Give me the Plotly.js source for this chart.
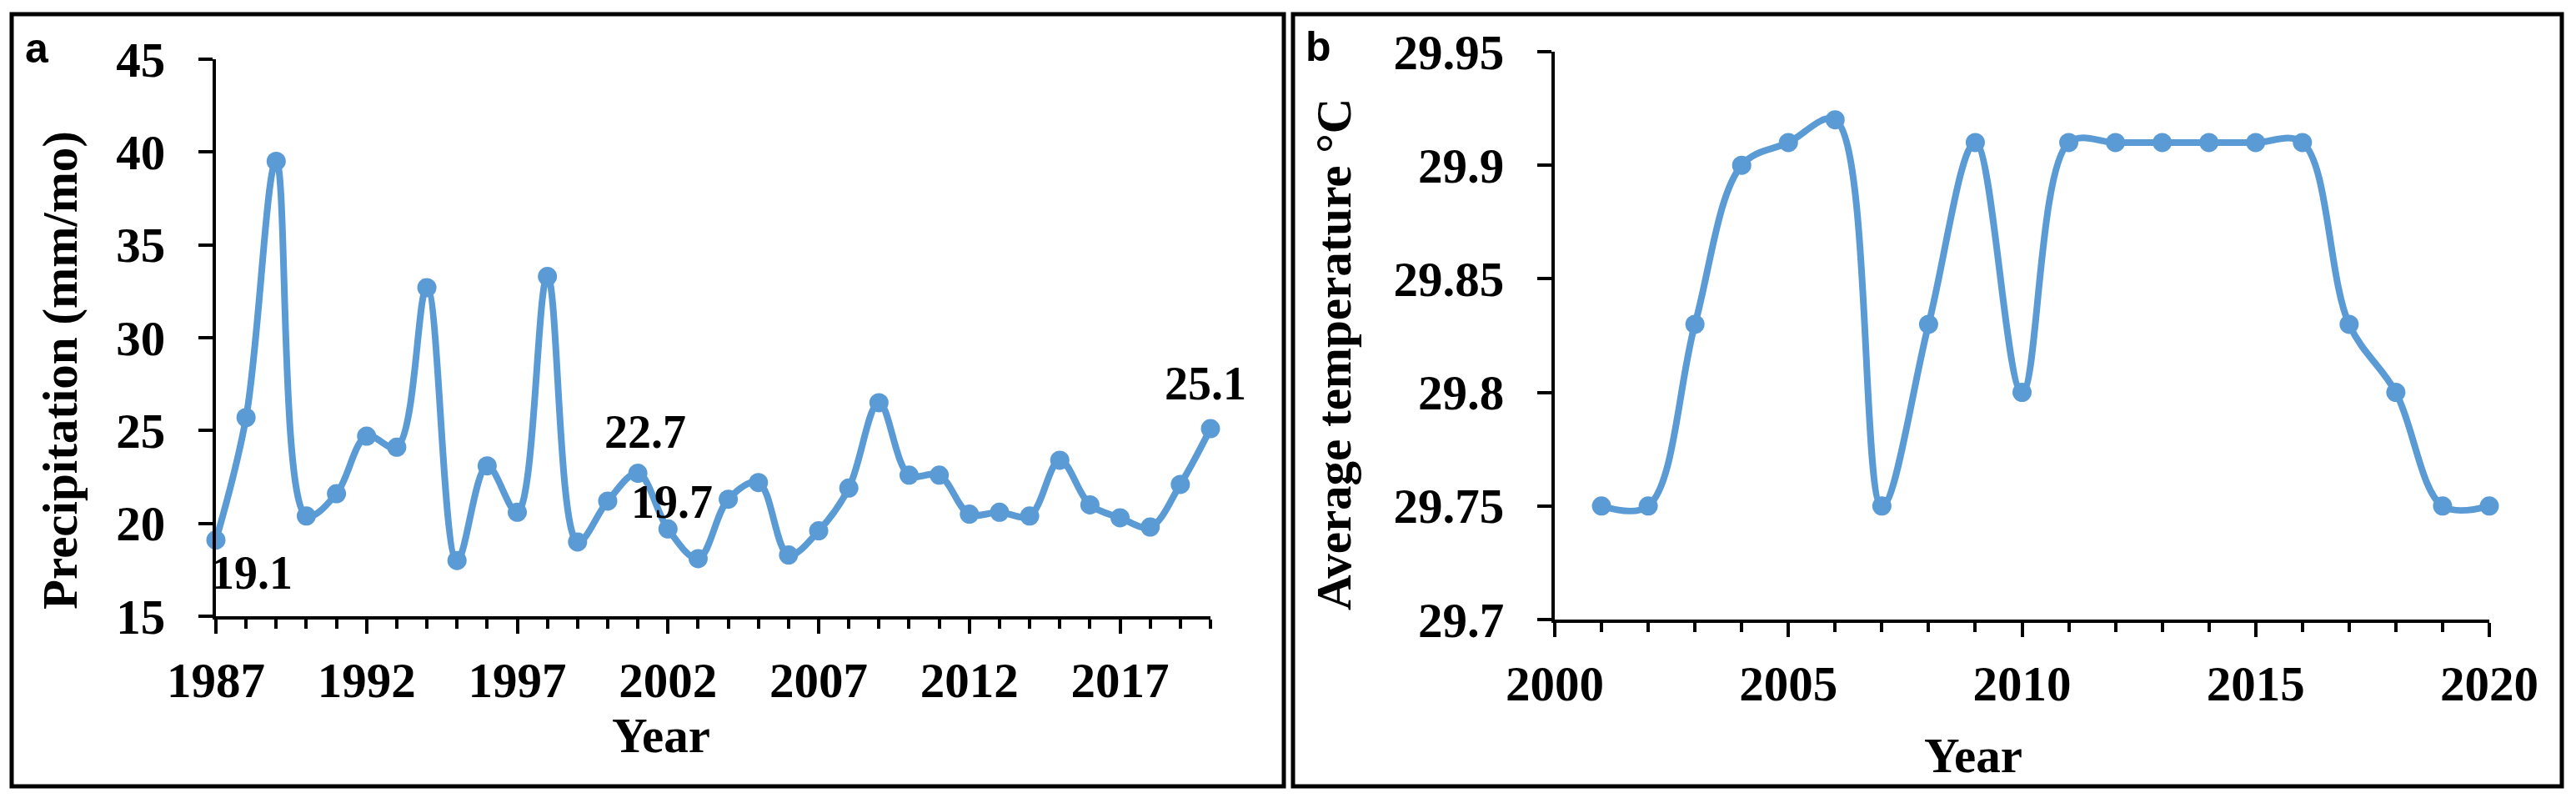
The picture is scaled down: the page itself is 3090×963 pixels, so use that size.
<!DOCTYPE html>
<html><head><meta charset="utf-8">
<script src="https://cdn.plot.ly/plotly-3.0.1.min.js"></script>
<style>html,body{margin:0;padding:0;background:#fff}#chart{width:3090px;height:963px}</style>
</head><body><div id="chart"></div>
<script>
// ---- data ----
const precipYears = [1987,1988,1989,1990,1991,1992,1993,1994,1995,1996,1997,1998,1999,2000,2001,2002,2003,2004,2005,2006,2007,2008,2009,2010,2011,2012,2013,2014,2015,2016,2017,2018,2019,2020];
const precipValues = [19.1,25.7,39.5,20.4,21.6,24.7,24.1,32.7,18.0,23.1,20.6,33.3,19.0,21.2,22.7,19.7,18.1,21.3,22.2,18.3,19.6,21.9,26.5,22.6,22.6,20.5,20.6,20.4,23.4,21.0,20.3,19.8,22.1,25.1];
const precipLabelYears = [1987, 2001, 2002, 2020];
const precipXTicks = [1987,1992,1997,2002,2007,2012,2017];
const precipYTicks = [15,20,25,30,35,40,45];

const tempYears = [2001,2002,2003,2004,2005,2006,2007,2008,2009,2010,2011,2012,2013,2014,2015,2016,2017,2018,2019,2020];
const tempValues = [29.75,29.75,29.83,29.90,29.91,29.92,29.75,29.83,29.91,29.80,29.91,29.91,29.91,29.91,29.91,29.91,29.83,29.80,29.75,29.75];
const tempXTicks = [2000,2005,2010,2015,2020];
const tempYTicks = [29.7,29.75,29.8,29.85,29.9,29.95];
const tempYTickText = ['29.7','29.75','29.8','29.85','29.9','29.95'];

// ---- layout helpers ----
const W = 3090, H = 963;
const px = x => x / W;
const py = y => 1 - y / H;
const SERIF = '"Liberation Serif", "Times New Roman", serif';
const SANS = '"Liberation Sans", Arial, sans-serif';
const BLUE = '#5B9BD5';
const FS = 59;

const lineTrace = (x, y, xa, ya) => ({
  x, y, xaxis: xa, yaxis: ya, type: 'scatter', mode: 'lines+markers',
  line: {color: BLUE, width: 8, shape: 'spline', smoothing: 1},
  marker: {color: BLUE, size: 23},
  cliponaxis: false, hoverinfo: 'skip', showlegend: false
});

const axisCommon = {
  showline: true, linecolor: '#000', linewidth: 4,
  ticks: 'outside', ticklen: 17, tickwidth: 4, tickcolor: '#000',
  showgrid: false, zeroline: false, fixedrange: true,
  tickfont: {family: SERIF, size: FS, color: '#000', weight: 'bold'}
};

// label offsets (style)
const labelOffsets = {1987: [43, -39], 2001: [9, 50], 2002: [5, 32], 2020: [-6, 54]};
const annotations = precipLabelYears.map(yr => {
  const v = precipValues[precipYears.indexOf(yr)];
  return {
    x: yr, y: v, xref: 'x', yref: 'y', text: v.toFixed(1), showarrow: false,
    xanchor: 'center', yanchor: 'middle',
    xshift: labelOffsets[yr][0], yshift: labelOffsets[yr][1],
    font: {family: SERIF, size: 56, color: '#000', weight: 'bold'}
  };
});

const paperText = (x, y, text, opts) => Object.assign({
  x: px(x), y: py(y), xref: 'paper', yref: 'paper', text, showarrow: false,
  xanchor: 'center', yanchor: 'middle',
  font: {family: SERIF, size: FS, color: '#000', weight: 'bold'}
}, opts || {});

annotations.push(
  paperText(72, 444, 'Precipitation (mm/mo)', {textangle: -90}),
  paperText(793, 882, 'Year'),
  paperText(1600, 425, 'Average temperature °C', {textangle: -90}),
  paperText(2367, 906, 'Year'),
  paperText(44, 58, 'a', {font: {family: SANS, size: 50, color: '#000', weight: 'bold'}}),
  paperText(1581, 56, 'b', {font: {family: SANS, size: 50, color: '#000', weight: 'bold'}})
);

const layout = {
  width: W, height: H, autosize: false,
  margin: {l: 0, r: 0, t: 0, b: 0, pad: 0},
  paper_bgcolor: '#fff', plot_bgcolor: 'rgba(0,0,0,0)',
  xaxis: Object.assign({}, axisCommon, {
    domain: [px(259), px(1452)], anchor: 'y', range: [1987, 2020],
    tickmode: 'array', tickvals: precipXTicks, ticklabelstandoff: 5,
    minor: {ticks: 'outside', ticklen: 11, tickwidth: 4, tickcolor: '#000', dtick: 1, tick0: 1987, showgrid: false}
  }),
  yaxis: Object.assign({}, axisCommon, {
    domain: [py(739), py(71)], anchor: 'x', range: [15, 45],
    tickmode: 'array', tickvals: precipYTicks, ticklabelstandoff: 28
  }),
  xaxis2: Object.assign({}, axisCommon, {
    domain: [px(1865), px(2986)], anchor: 'y2', range: [2000, 2020],
    tickmode: 'array', tickvals: tempXTicks, ticklabelstandoff: 5,
    minor: {ticks: 'outside', ticklen: 11, tickwidth: 4, tickcolor: '#000', dtick: 1, tick0: 2000, showgrid: false}
  }),
  yaxis2: Object.assign({}, axisCommon, {
    domain: [py(743), py(62)], anchor: 'x2', range: [29.7, 29.95],
    tickmode: 'array', tickvals: tempYTicks, ticktext: tempYTickText, ticklabelstandoff: 28
  }),
  shapes: [
    {type: 'rect', xref: 'paper', yref: 'paper', x0: px(14), x1: px(1540), y0: py(943), y1: py(17), line: {color: '#000', width: 5}},
    {type: 'rect', xref: 'paper', yref: 'paper', x0: px(1551), x1: px(3073), y0: py(943), y1: py(17), line: {color: '#000', width: 5}}
  ],
  annotations
};

Plotly.newPlot('chart', [
  lineTrace(precipYears, precipValues, 'x', 'y'),
  lineTrace(tempYears, tempValues, 'x2', 'y2')
], layout, {staticPlot: true, displayModeBar: false});
</script>
</body></html>
